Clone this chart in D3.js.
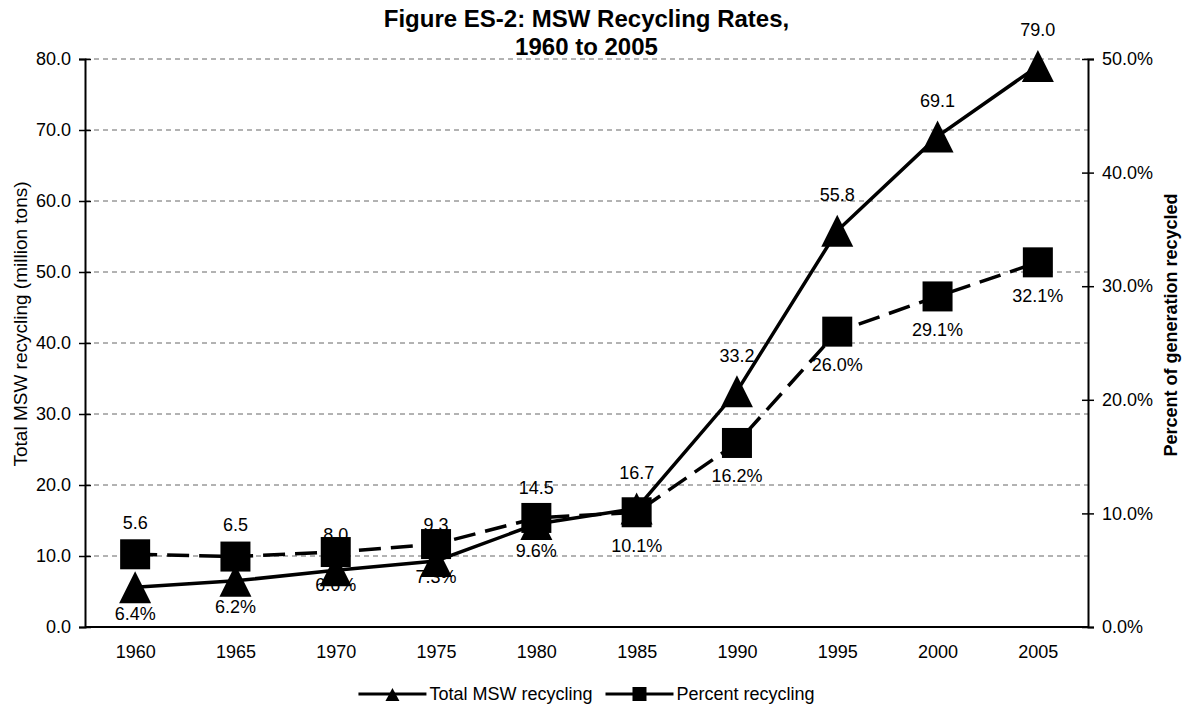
<!DOCTYPE html>
<html><head><meta charset="utf-8">
<script src="https://cdn.jsdelivr.net/npm/d3@7"></script>
<style>body{margin:0;background:#fff} svg{font-family:"Liberation Sans",Arial,sans-serif}</style>
</head><body><svg id="c" width="1186" height="706"></svg>
<script>
const years = ["1960","1965","1970","1975","1980","1985","1990","1995","2000","2005"];
const totalRecycling = [5.6,6.5,8.0,9.3,14.5,16.7,33.2,55.8,69.1,79.0];
const percentRecycling = [6.4,6.2,6.6,7.3,9.6,10.1,16.2,26.0,29.1,32.1];
const leftTicks = [0,10,20,30,40,50,60,70,80];
const rightTicks = [0,10,20,30,40,50];
const titleLines = ["Figure ES-2: MSW Recycling Rates,","1960 to 2005"];
const seriesNames = ["Total MSW recycling","Percent recycling"];

const FONT = "Liberation Sans, Arial, sans-serif";
const svg = d3.select("#c");
const L = 85, R = 1088, T = 59, B = 627;
const x = d3.scalePoint().domain(years).range([L, R]).padding(0.5);
const y = d3.scaleLinear().domain([0,80]).range([B, T]);
const yR = d3.scaleLinear().domain([0,50]).range([B, T]);

// gridlines
svg.append("g").selectAll("line").data(leftTicks.filter(d=>d>0)).join("line")
  .attr("x1", L).attr("x2", R).attr("y1", d=>y(d)).attr("y2", d=>y(d))
  .attr("stroke", "#666").attr("stroke-width", 1).attr("stroke-dasharray", "5,4");

// left axis
const gl = svg.append("g").attr("transform", `translate(${L},0)`)
  .call(d3.axisLeft(y).tickValues(leftTicks).tickFormat(d3.format(".1f")).tickSizeOuter(0).tickSize(6).tickPadding(8));
gl.select(".domain").attr("stroke-width", 2);
gl.selectAll(".tick line").attr("x1", 6).attr("stroke-width", 1.5);
gl.selectAll(".tick text").attr("font-size", 18).attr("fill", "#000").attr("font-family", FONT);

// right axis
const gr = svg.append("g").attr("transform", `translate(${R},0)`)
  .call(d3.axisRight(yR).tickValues(rightTicks).tickFormat(d => d3.format(".1f")(d) + "%").tickSizeOuter(0).tickSize(6).tickPadding(8));
gr.select(".domain").attr("stroke-width", 2);
gr.selectAll(".tick line").attr("x1", -6).attr("stroke-width", 1.5);
gr.selectAll(".tick text").attr("font-size", 18).attr("fill", "#000").attr("font-family", FONT);

// bottom axis
const gb = svg.append("g").attr("transform", `translate(0,${B})`)
  .call(d3.axisBottom(x).tickSize(0).tickPadding(18).tickSizeOuter(0));
gb.select(".domain").attr("d", `M${L},0H${R}`).attr("stroke-width", 2);
gb.selectAll(".tick text").attr("font-size", 18).attr("fill", "#000").attr("font-family", FONT);

// lines and markers
const lineT = d3.line().x((d,i)=>x(years[i])).y(d=>y(d));
const lineP = d3.line().x((d,i)=>x(years[i])).y(d=>yR(d));
svg.append("path").datum(totalRecycling).attr("d", lineT).attr("fill","none").attr("stroke","#000").attr("stroke-width",3.5);
svg.append("g").selectAll("path").data(totalRecycling).join("path")
  .attr("transform", (d,i)=>`translate(${x(years[i])},${y(d)})`)
  .attr("d", "M0,-16L16,16L-16,16Z").attr("fill","#000");
svg.append("path").datum(percentRecycling).attr("d", lineP).attr("fill","none").attr("stroke","#000").attr("stroke-width",3.5).attr("stroke-dasharray","22,10");
svg.append("g").selectAll("rect").data(percentRecycling).join("rect")
  .attr("x", (d,i)=>x(years[i])-15).attr("y", d=>yR(d)-15).attr("width",30).attr("height",30).attr("fill","#000");

// data labels
const labels = svg.append("g").attr("font-size", 18).attr("text-anchor","middle").attr("fill","#000");
years.forEach((yr,i)=>{
  const yt = y(totalRecycling[i]), yp = yR(percentRecycling[i]);
  const crowded = yt - yp > 20;
  const tY = crowded ? yp - 32 : yt - 36;
  const pY = crowded ? yt + 26 : yp + 33;
  labels.append("text").attr("x", x(yr)).attr("y", tY).attr("dy","0.35em").text(d3.format(".1f")(totalRecycling[i]));
  labels.append("text").attr("x", x(yr)).attr("y", pY).attr("dy","0.35em").text(d3.format(".1f")(percentRecycling[i]) + "%");
});

// title
const cx = (L+R)/2;
svg.append("text").attr("x", cx).attr("y", 27).attr("text-anchor","middle").attr("font-size",24).attr("font-weight","bold").text(titleLines[0]);
svg.append("text").attr("x", cx).attr("y", 55).attr("text-anchor","middle").attr("font-size",24).attr("font-weight","bold").text(titleLines[1]);

// axis titles
svg.append("text").attr("transform",`translate(20,324) rotate(-90)`).attr("dy","0.35em").attr("text-anchor","middle").attr("font-size",19).text("Total MSW recycling (million tons)");
svg.append("text").attr("transform",`translate(1171,325) rotate(-90)`).attr("dy","0.35em").attr("text-anchor","middle").attr("font-size",18).attr("font-weight","bold").text("Percent of generation recycled");

// legend (centered)
const LY = 694, lineW = 68;
const lg = svg.append("g").attr("font-size", 18);
const t1 = lg.append("text").attr("y",LY).attr("dy","0.35em").text(seriesNames[0]);
const t2 = lg.append("text").attr("y",LY).attr("dy","0.35em").text(seriesNames[1]);
const w1 = t1.node().getComputedTextLength(), w2 = t2.node().getComputedTextLength();
const total = lineW + 3 + w1 + 13 + lineW + 3 + w2;
let sx = cx - total/2;
lg.append("line").attr("x1",sx).attr("x2",sx+lineW).attr("y1",LY).attr("y2",LY).attr("stroke","#000").attr("stroke-width",3);
lg.append("path").attr("transform",`translate(${sx+lineW/2},${LY})`).attr("d","M0,-6L7,7L-7,7Z").attr("fill","#000");
t1.attr("x", sx+lineW+3);
sx += lineW + 3 + w1 + 13;
lg.append("line").attr("x1",sx).attr("x2",sx+lineW).attr("y1",LY).attr("y2",LY).attr("stroke","#000").attr("stroke-width",3);
lg.append("rect").attr("x",sx+lineW/2-7).attr("y",LY-7).attr("width",14).attr("height",14).attr("fill","#000");
t2.attr("x", sx+lineW+3);
</script></body></html>
